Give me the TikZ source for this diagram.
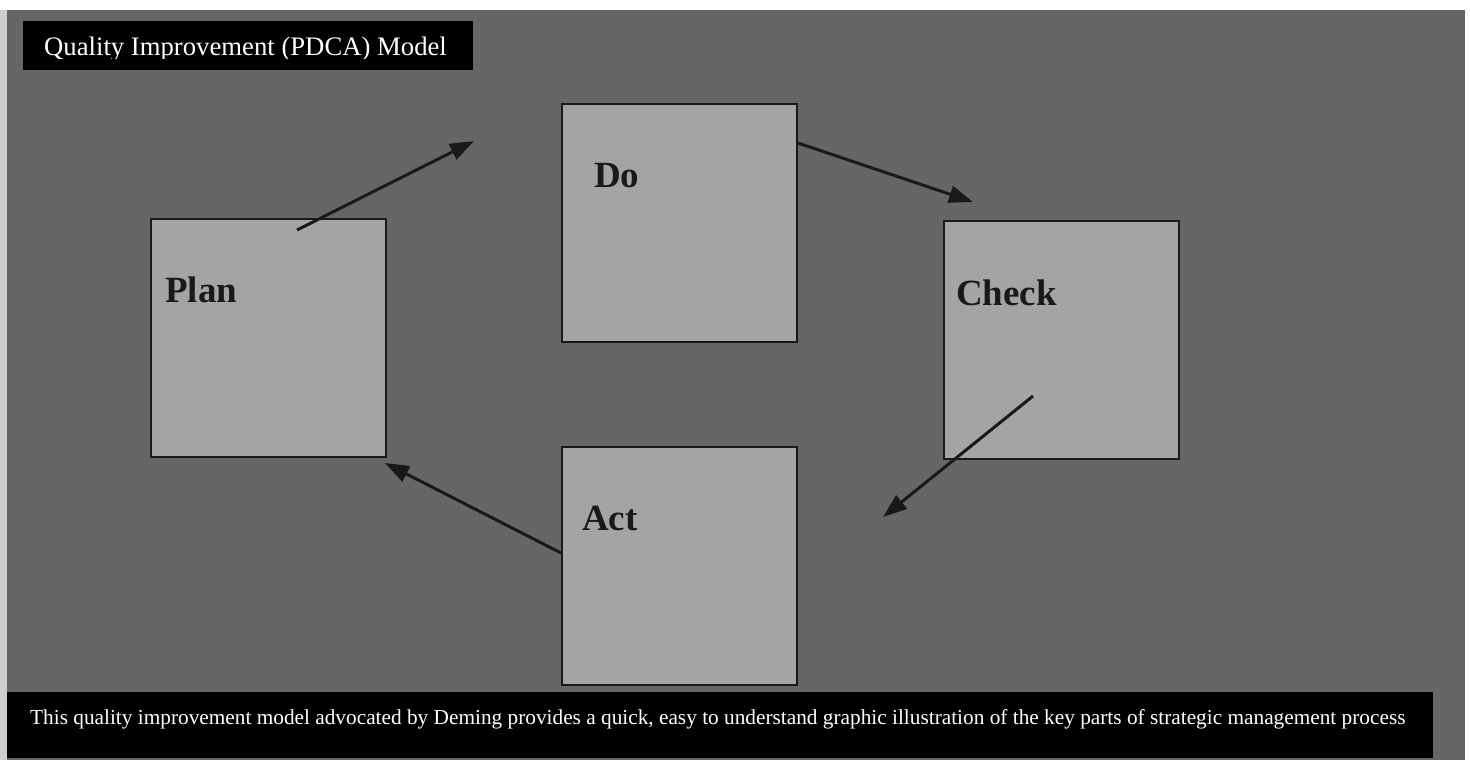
\documentclass[tikz,border=0pt]{standalone}
\usepackage{fontspec}
\setmainfont{Liberation Serif}
\usetikzlibrary{arrows.meta,calc}
\definecolor{bggray}{RGB}{102,102,102}
\definecolor{boxgray}{RGB}{164,164,164}
\definecolor{edgegray}{RGB}{205,205,205}
\tikzset{
  stagebox/.style={draw=black!90, line width=2.2pt, fill=boxgray, minimum width=235pt, minimum height=238pt, inner sep=0pt, anchor=north west},
  stagelabel/.style={anchor=base west, inner sep=0pt, font=\fontsize{37}{37}\selectfont\bfseries, text=black!90},
  flow/.style={line width=3pt, black!90, -{Triangle[length=24pt,width=17pt]}},
  banner/.style={fill=black, draw=none, inner sep=0pt, anchor=north west},
}
\begin{document}
\begin{tikzpicture}[x=1pt,y=-1pt]
\useasboundingbox (0,0) rectangle (1470,760);
% scanned page background
\fill[white] (0,0) rectangle (1470,760);
\fill[edgegray] (0,10) rectangle (7,760);
\fill[bggray] (7,10) rectangle (1465,760);
% title banner
\node[banner, minimum width=450pt, minimum height=49pt] (titlebox) at (23,21) {};
\begin{scope}
\clip (23,21) rectangle (473,58.5);
\node[anchor=base west, inner sep=0pt, text=white, font=\fontsize{26.7}{27}\selectfont] (title) at (44,56) {Quality Improvement (PDCA) Model};
\end{scope}
% stage boxes
\node[stagebox] (plan)  at (150,218) {};
\node[stagebox] (do)    at (561,103) {};
\node[stagebox] (check) at (943,220) {};
\node[stagebox] (act)   at (561,446) {};
\node[stagelabel] (plantxt)  at ($(plan.north west)+(15,84)$)  {Plan};
\node[stagelabel] (dotxt)    at ($(do.north west)+(33,84)$)    {Do};
\node[stagelabel] (checktxt) at ($(check.north west)+(13,85)$) {Check};
\node[stagelabel] (acttxt)   at ($(act.north west)+(21,84)$)   {Act};
% arrow end points
\coordinate (p1) at (297,230);  \coordinate (p2) at (474,141);
\coordinate (d1) at (798,143);  \coordinate (d2) at (973,202);
\coordinate (c1) at (1033,396); \coordinate (c2) at (883,517);
\coordinate (a1) at (561,553);  \coordinate (a2) at (385,463);
\draw[flow] (p1) -- (p2);
\draw[flow] (d1) -- (d2);
\draw[flow] (c1) -- (c2);
\draw[flow] (a1) -- (a2);
% caption banner
\node[banner, minimum width=1426pt, minimum height=66pt] (capbox) at (7,692) {};
\node[anchor=base west, inner sep=0pt, text=white, font=\fontsize{21.3}{22}\selectfont] (caption) at (30,724) {This quality improvement model advocated by Deming provides a quick, easy to understand graphic illustration of the key parts of strategic management process};
\end{tikzpicture}
\end{document}
